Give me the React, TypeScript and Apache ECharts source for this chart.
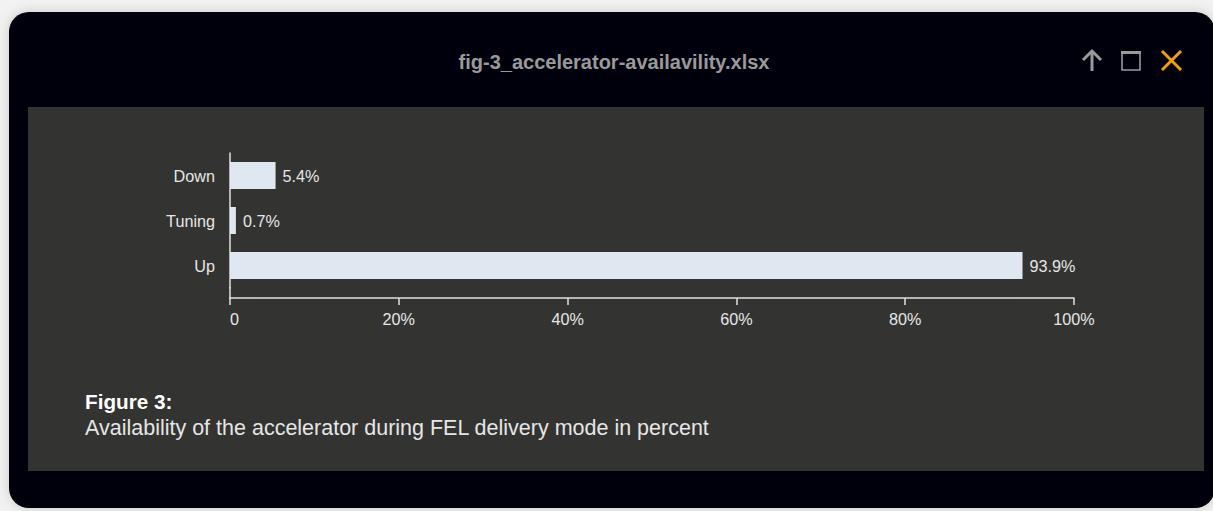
import React, { useEffect, useRef } from "react";
import * as echarts from "echarts";

const categories = ["Up", "Tuning", "Down"];
const values = [93.9, 0.7, 5.4];
const xTicks = [0, 20, 40, 60, 80, 100];
const fileTitle = "fig-3_accelerator-availavility.xlsx";
const figureLabel = "Figure 3:";
const caption = "Availability of the accelerator during FEL delivery mode in percent";

const FONT = "'Liberation Sans', Arial, Helvetica, sans-serif";

export default function App() {
  const ref = useRef<HTMLDivElement>(null);
  useEffect(() => {
    if (!ref.current) return;
    const chart = echarts.init(ref.current, undefined, { renderer: "svg" });
    const option = {
      animation: false,
      backgroundColor: "#f2f2f2",
      textStyle: { fontFamily: FONT },
      grid: { left: 230, top: 153, width: 844, height: 135, containLabel: false },
      xAxis: {
        type: "value",
        min: xTicks[0],
        max: xTicks[xTicks.length - 1],
        interval: 20,
        offset: 10,
        splitLine: { show: false },
        axisLine: { show: true, lineStyle: { color: "#e2e2e2", width: 1.5 } },
        axisTick: { show: true, length: 7, lineStyle: { color: "#e2e2e2", width: 1.5 } },
        axisLabel: {
          color: "#e6e6e6",
          fontSize: 16.2,
          fontFamily: FONT,
          margin: 13,
          alignMinLabel: "left",
          formatter: (v: number) => (v === 0 ? "0" : v + "%"),
        },
      },
      yAxis: {
        type: "category",
        data: categories,
        axisLine: { show: true, lineStyle: { color: "#e2e2e2", width: 1.5 } },
        axisTick: { show: false },
        axisLabel: { color: "#e6e6e6", fontSize: 16.2, fontFamily: FONT, margin: 15 },
      },
      series: [
        {
          type: "bar",
          data: values,
          barWidth: 27,
          itemStyle: { color: "#dfe7f0" },
          label: {
            show: true,
            position: "right",
            distance: 7,
            color: "#e6e6e6",
            fontSize: 16.2,
            fontFamily: FONT,
            formatter: (p: any) => p.value + "%",
          },
        },
      ],
      graphic: [
        {
          type: "rect",
          z: -10,
          shape: { x: 9, y: 12, width: 1206, height: 496, r: 20 },
          style: { fill: "#050507", shadowBlur: 12, shadowColor: "rgba(0,0,0,0.18)" },
        },
        {
          type: "rect",
          z: -9,
          shape: { x: 28, y: 107, width: 1176, height: 364 },
          style: { fill: "#333331" },
        },
        {
          type: "line",
          z: 5,
          shape: { x1: 230, y1: 287, x2: 230, y2: 298.5 },
          style: { stroke: "#e2e2e2", lineWidth: 1.5 },
        },
        {
          type: "text",
          z: 5,
          x: 614,
          y: 62,
          style: {
            text: fileTitle,
            fill: "#9a9a9a",
            font: "bold 20px " + FONT,
            align: "center",
            verticalAlign: "middle",
          },
        },
        // up arrow icon
        {
          type: "polyline",
          z: 5,
          shape: { points: [[1083, 60], [1092, 51], [1101, 60]] },
          style: { stroke: "#9a9a9a", lineWidth: 3, fill: "none" },
        },
        {
          type: "line",
          z: 5,
          shape: { x1: 1092, y1: 52, x2: 1092, y2: 71 },
          style: { stroke: "#9a9a9a", lineWidth: 3 },
        },
        // window icon
        {
          type: "rect",
          z: 5,
          shape: { x: 1122, y: 52, width: 18, height: 18 },
          style: { stroke: "#9a9a9a", lineWidth: 1.6, fill: "none" },
        },
        {
          type: "rect",
          z: 5,
          shape: { x: 1121, y: 51, width: 20, height: 3 },
          style: { fill: "#9a9a9a" },
        },
        // close icon
        {
          type: "line",
          z: 5,
          shape: { x1: 1162, y1: 51, x2: 1181, y2: 70 },
          style: { stroke: "#f5a000", lineWidth: 3 },
        },
        {
          type: "line",
          z: 5,
          shape: { x1: 1181, y1: 51, x2: 1162, y2: 70 },
          style: { stroke: "#f5a000", lineWidth: 3 },
        },
        {
          type: "text",
          z: 5,
          x: 85,
          y: 401,
          style: {
            text: figureLabel,
            fill: "#ffffff",
            font: "bold 20.7px " + FONT,
            align: "left",
            verticalAlign: "middle",
          },
        },
        {
          type: "text",
          z: 5,
          x: 85,
          y: 428,
          style: {
            text: caption,
            fill: "#e6e6e6",
            font: "21.5px " + FONT,
            align: "left",
            verticalAlign: "middle",
          },
        },
      ],
    };
    chart.setOption(option as any);
    return () => chart.dispose();
  }, []);
  return (
    <div
      ref={ref}
      style={{ position: "fixed", left: 0, top: 0, width: 1213, height: 511 }}
    />
  );
}
